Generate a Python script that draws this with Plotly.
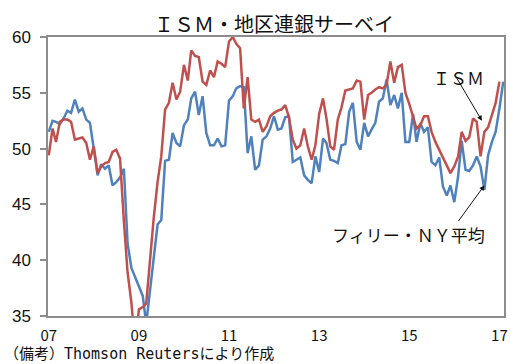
import pandas as pd
import plotly.graph_objects as go

# ISM manufacturing index, monthly from Jan 2007 to Jan 2017
ism = [
    49.4, 51.8, 50.6, 52.4, 52.6, 52.6, 52.4, 50.8, 50.9, 51.0, 50.5, 49.0,
    50.2, 47.8, 48.4, 48.7, 48.8, 49.7, 49.9, 49.1, 43.5, 38.9, 36.2, 32.4,
    35.6, 35.8, 36.1, 40.2, 43.8, 47.0, 49.3, 53.5, 54.1, 55.9, 54.4, 55.1,
    57.5, 56.1, 58.8, 58.3, 58.2, 56.0, 55.7, 57.0, 56.4, 57.8, 57.6, 57.3,
    59.6, 60.0, 59.4, 59.0, 53.6, 56.4, 52.6, 52.4, 52.6, 51.5, 52.0, 52.9,
    53.2, 53.4, 53.5, 53.9, 52.8, 50.8, 50.0, 50.3, 51.8, 50.2, 49.0, 50.3,
    53.1, 54.5, 52.7, 50.2, 49.9, 52.6, 53.7, 55.2, 55.3, 55.4, 56.1, 56.0,
    52.6, 54.8, 55.0, 55.3, 55.5, 55.4, 55.7, 57.8, 55.9, 57.3, 57.5, 55.0,
    54.0, 52.8, 51.8, 52.1, 52.9, 52.9, 51.5, 50.6, 49.9, 49.1, 48.5, 47.8,
    48.4, 49.3, 51.5, 50.7, 51.0, 52.7, 52.4, 49.3, 51.5, 51.9, 53.0, 54.1,
    56.0,
]

# Average of Philadelphia and New York Fed surveys, Jan 2007 to Feb 2017
philly_ny = [
    51.5, 52.5, 52.4, 52.2, 52.7, 53.4, 53.2, 54.4, 53.3, 53.6, 52.6, 52.3,
    50.0, 47.6, 48.6, 48.2, 48.5, 46.7, 47.0, 47.4, 48.2, 41.5, 39.3, 38.5,
    37.6, 36.8, 34.3, 37.5, 40.5, 43.2, 43.6, 48.9, 49.0, 51.4, 50.5, 50.2,
    52.1, 52.6, 54.5, 55.1, 53.0, 54.7, 51.4, 50.3, 50.3, 50.9, 50.2, 50.3,
    54.3, 54.7, 55.4, 55.6, 55.5, 49.6, 51.1, 48.1, 48.5, 50.8, 51.1, 51.8,
    52.9, 51.7, 51.8, 52.8, 52.9, 48.8, 49.0, 49.2, 47.6, 47.2, 46.9, 49.3,
    47.9, 50.9, 50.5, 49.0, 48.9, 48.7, 50.3, 50.4, 53.3, 54.1, 50.6, 49.9,
    52.3, 51.1, 51.7, 52.3, 54.2, 54.5, 56.2, 53.9, 54.8, 53.6, 55.0, 50.6,
    50.6, 53.1, 50.6, 52.3, 51.5, 51.9, 48.8, 48.5, 49.2, 46.6, 45.8, 46.7,
    45.2, 47.5, 50.7, 48.1, 48.0, 48.5, 49.3, 48.4, 46.3, 49.4, 50.6, 51.5,
    53.6, 56.0,
]

ism_dates = pd.date_range("2007-01-01", periods=len(ism), freq="MS")
fed_dates = pd.date_range("2007-01-01", periods=len(philly_ny), freq="MS")

tick_years = [2007, 2009, 2011, 2013, 2015, 2017]
tick_labels = ["07", "09", "11", "13", "15", "17"]

RED = "#C0504D"
BLUE = "#4F81BD"
AXIS = "#8C8C8C"
JP = "Noto Sans CJK JP"

fig = go.Figure()
fig.add_trace(go.Scatter(x=fed_dates, y=philly_ny, mode="lines", name="フィリー・ＮＹ平均",
                         line=dict(color=BLUE, width=2.5)))
fig.add_trace(go.Scatter(x=ism_dates, y=ism, mode="lines", name="ＩＳＭ",
                         line=dict(color=RED, width=2.5)))

fig.update_layout(
    width=511, height=364,
    margin=dict(l=48, r=3, t=37, b=48),
    paper_bgcolor="white", plot_bgcolor="white",
    showlegend=False,
    title=dict(text="ＩＳＭ・地区連銀サーベイ", x=0.536, xanchor="center",
               y=1 - 25 / 364, yanchor="middle", yref="container",
               font=dict(family=JP, size=20, color="#111111")),
)

fig.update_xaxes(
    type="date",
    range=["2006-12-26", "2017-02-07"],
    tickvals=[pd.Timestamp(f"{y}-01-01") for y in tick_years],
    ticktext=tick_labels,
    ticks="outside", ticklen=5, tickcolor="rgba(0,0,0,0)",
    showline=True, linecolor=AXIS, linewidth=1.5, mirror=True,
    showgrid=False, zeroline=False,
    tickfont=dict(family=JP, size=15, color="#111111"),
)
fig.update_yaxes(
    range=[35, 60], dtick=5,
    ticks="outside", ticklen=6, tickcolor=AXIS, tickwidth=1.5,
    ticklabelstandoff=6,
    showline=True, linecolor=AXIS, linewidth=1.5, mirror=True,
    showgrid=False, zeroline=False,
    tickfont=dict(family="Liberation Sans, Arial", size=17, color="#111111"),
)

# series labels with pointer arrows
fig.add_annotation(x=pd.Timestamp("2016-08-12"), y=52.5, xref="x", yref="y",
                   text="", showarrow=True, ax=-26, ay=-44,
                   arrowhead=2, arrowsize=1, arrowwidth=1, arrowcolor="#111111")
fig.add_annotation(x=pd.Timestamp("2016-09-01"), y=46.7, xref="x", yref="y",
                   text="", showarrow=True, ax=-27, ay=37,
                   arrowhead=2, arrowsize=1, arrowwidth=1, arrowcolor="#111111")
fig.add_annotation(x=(462 - 48) / 460, y=(316 - 77) / 279, xref="paper", yref="paper",
                   text="ＩＳＭ", showarrow=False, xanchor="center", yanchor="middle",
                   font=dict(family=JP, size=17, color="#111111"))
fig.add_annotation(x=(412 - 48) / 460, y=(316 - 234) / 279, xref="paper", yref="paper",
                   text="フィリー・ＮＹ平均", showarrow=False, xanchor="center", yanchor="middle",
                   font=dict(family=JP, size=17, color="#111111"))

# source note
fig.add_annotation(x=(2 - 48) / 460, y=(316 - 354) / 279, xref="paper", yref="paper",
                   text="（備考）Thomson Reutersにより作成", showarrow=False,
                   xanchor="left", yanchor="middle",
                   font=dict(family="DejaVu Sans Mono, Noto Sans CJK JP", size=15, color="#111111"))

fig.write_html("out.html")
